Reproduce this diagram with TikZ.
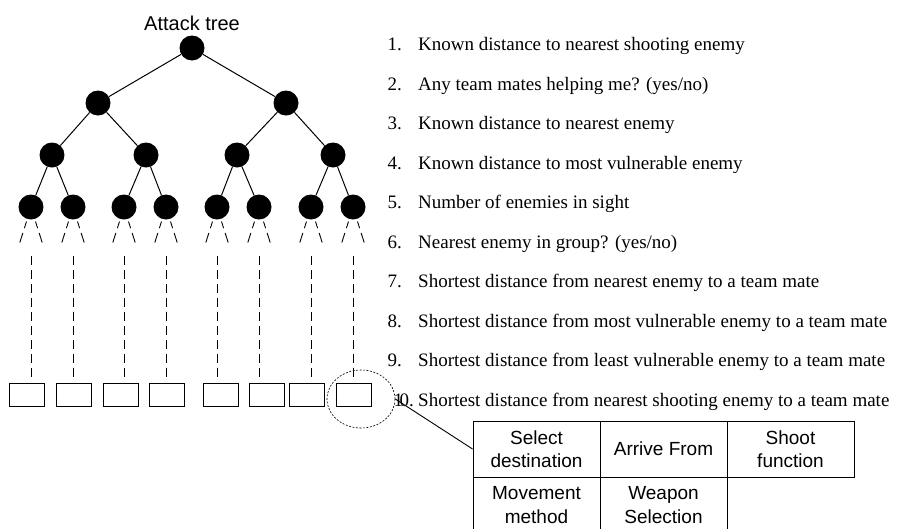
\documentclass[tikz,border=0pt]{standalone}
\usepackage{fontspec}
\setmainfont{Liberation Serif}
\newfontfamily\arialf{Liberation Sans}
\usetikzlibrary{shapes.geometric,calc}
\begin{document}
\begin{tikzpicture}[x=1pt,y=-1pt,
  treenode/.style={circle,fill=black,inner sep=0pt,minimum size=25pt},
  edge/.style={line width=1pt},
  slashline/.style={line width=0.9pt,dash pattern=on 7pt off 5pt on 10pt off 5pt},
  vline/.style={line width=0.9pt,dash pattern=on 9pt off 5pt},
  leafbox/.style={draw,line width=0.9pt,minimum width=35pt,minimum height=23pt,inner sep=0pt},
  item/.style={font=\fontsize{19}{22}\selectfont,inner sep=0pt},
  cell/.style={draw,line width=0.9pt,minimum width=127pt,minimum height=56pt,inner sep=0pt,
    align=center,font=\arialf\fontsize{19}{23.3}\selectfont},
  ring/.style={draw,ellipse,line width=0.6pt,dash pattern=on 2pt off 1.5pt,
    minimum width=68pt,minimum height=58pt,inner sep=0pt},
]
\useasboundingbox (0,0) rectangle (910,528);
\clip (0,0) rectangle (910,528);

% title
\node[font=\arialf\fontsize{20}{24}\selectfont,anchor=base,inner sep=0pt] (title) at (192,30) {Attack tree};

% tree
\node[treenode] (root) at (192,48) {};
\node[treenode] (n1) at (98,103) {};
\node[treenode] (n2) at (286,103) {};
\node[treenode] (m1) at (52,155) {};
\node[treenode] (m2) at (146,155) {};
\node[treenode] (m3) at (237,155) {};
\node[treenode] (m4) at (333,155) {};
\node[treenode] (l1) at (31,207) {};
\node[treenode] (l2) at (73,207) {};
\node[treenode] (l3) at (124,207) {};
\node[treenode] (l4) at (166,207) {};
\node[treenode] (l5) at (217,207) {};
\node[treenode] (l6) at (259,207) {};
\node[treenode] (l7) at (311,207) {};
\node[treenode] (l8) at (353,207) {};

\draw[edge] (root) -- (n1);
\draw[edge] (root) -- (n2);
\draw[edge] (n1) -- (m1);
\draw[edge] (n1) -- (m2);
\draw[edge] (n2) -- (m3);
\draw[edge] (n2) -- (m4);
\draw[edge] (m1) -- (l1);
\draw[edge] (m1) -- (l2);
\draw[edge] (m2) -- (l3);
\draw[edge] (m2) -- (l4);
\draw[edge] (m3) -- (l5);
\draw[edge] (m3) -- (l6);
\draw[edge] (m4) -- (l7);
\draw[edge] (m4) -- (l8);

% leaf boxes
\node[leafbox] (b1) at (26.5,394.5) {};
\node[leafbox] (b2) at (73.5,394.5) {};
\node[leafbox] (b3) at (120.5,394.5) {};
\node[leafbox] (b4) at (166.5,394.5) {};
\node[leafbox] (b5) at (220.5,394.5) {};
\node[leafbox] (b6) at (266.5,394.5) {};
\node[leafbox] (b7) at (306.5,394.5) {};
\node[leafbox] (b8) at (353.5,394.5) {};

% elided subtrees below each leaf
\foreach \k in {1,...,8}{
  \draw[slashline] ($(l\k)+(-4.5,14.5)$) -- ($(l\k)+(-11.5,36.5)$);
  \draw[slashline] ($(l\k)+(4.5,14.5)$) -- ($(l\k)+(11.5,36.5)$);
  \draw[vline] ($(l\k)+(0,49)$) -- ($(l\k |- b\k.north)+(0,-5)$);
}

% input list
\node[item,anchor=base west] (k1) at (387.5,50.7) {1.};
\node[item,anchor=base west] (q1) at (418,50.7) {Known distance to nearest shooting enemy};
\node[item,anchor=base west] (k2) at (387.5,90.2) {2.};
\node[item,anchor=base west] (q2) at (418,90.2) {Any team mates helping me? (yes/no)};
\node[item,anchor=base west] (k3) at (387.5,129.7) {3.};
\node[item,anchor=base west] (q3) at (418,129.7) {Known distance to nearest enemy};
\node[item,anchor=base west] (k4) at (387.5,169.2) {4.};
\node[item,anchor=base west] (q4) at (418,169.2) {Known distance to most vulnerable enemy};
\node[item,anchor=base west] (k5) at (387.5,208.7) {5.};
\node[item,anchor=base west] (q5) at (418,208.7) {Number of enemies in sight};
\node[item,anchor=base west] (k6) at (387.5,248.2) {6.};
\node[item,anchor=base west] (q6) at (418,248.2) {Nearest enemy in group? (yes/no)};
\node[item,anchor=base west] (k7) at (387.5,287.7) {7.};
\node[item,anchor=base west] (q7) at (418,287.7) {Shortest distance from nearest enemy to a team mate};
\node[item,anchor=base west] (k8) at (387.5,327.2) {8.};
\node[item,anchor=base west] (q8) at (418,327.2) {Shortest distance from most vulnerable enemy to a team mate};
\node[item,anchor=base west] (k9) at (387.5,366.7) {9.};
\node[item,anchor=base west] (q9) at (418,366.7) {Shortest distance from least vulnerable enemy to a team mate};
\node[item,anchor=base west] (k10) at (393.5,406.2) {1\kern-3.5pt 0.};
\node[item,anchor=base west] (q10) at (418,406.2) {Shortest distance from nearest shooting enemy to a team mate};

% action table
\node[cell] (t11) at (536.5,449) {Select\\destination};
\node[cell] (t12) at (663.5,449) {Arrive From};
\node[cell] (t13) at (790.5,449) {Shoot\\function};
\node[cell] (t21) at (536.5,505) {Movement\\method};
\node[cell] (t22) at (663.5,505) {Weapon\\Selection};

% highlighted leaf and its callout
\node[ring] (zoomring) at (361,399) {};
\draw[line width=0.9pt] (zoomring.east) -- (t11.west);
\end{tikzpicture}
\end{document}
